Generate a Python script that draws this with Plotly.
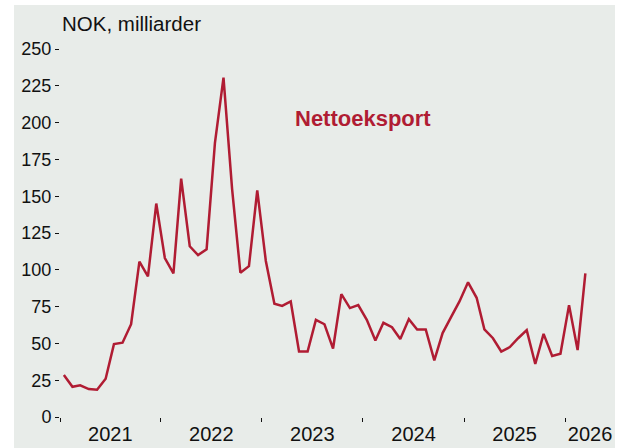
import plotly.graph_objects as go
import pandas as pd

# Monthly net exports, NOK billions, Jan 2021 - Mar 2026
start_month = "2021-01-01"
values = [28.5, 20.5, 21.5, 19, 18.5, 26, 49.5, 50.5, 63, 105.5, 95.5, 145,
          108, 97.5, 162, 116, 110, 114, 186, 230.5, 155, 98, 102.5, 154,
          106, 77, 75.5, 78.5, 44.5, 44.5, 66, 63, 46.5, 83.5, 74, 76,
          66, 52, 64, 61, 53, 66.5, 59.5, 59.5, 38.5, 57, 68, 78.5,
          91.5, 81, 59.5, 53.5, 44.5, 47.5, 53.5, 59, 36, 56.5, 41.5, 43,
          76, 45.5, 97.5]
dates = pd.date_range(start_month, periods=len(values), freq="MS") + pd.Timedelta(days=14)

year_labels = ["2021", "2022", "2023", "2024", "2025", "2026"]
year_label_pos = ["2021-07-02", "2022-07-02", "2023-07-02", "2024-07-02", "2025-07-02", "2026-04-01"]
year_bounds = ["2021-01-01", "2022-01-01", "2023-01-01", "2024-01-01", "2025-01-01", "2026-01-01"]
y_ticks = [0, 25, 50, 75, 100, 125, 150, 175, 200, 225, 250]

RED = "#B01C33"
BG = "#E8ECE9"
FONT = "Liberation Sans, Arial, sans-serif"

fig = go.Figure()
fig.add_trace(go.Scatter(x=dates, y=values, mode="lines",
                         line=dict(color=RED, width=2.5), hoverinfo="skip"))

W, H = 623, 448
ml, mr, mt, mb = 60, 18, 49, 31
pw = W - ml - mr
ph = H - mt - mb

def px_x(p):
    return (p - ml) / pw

def px_y(p):
    return (H - mb - p) / ph

fig.add_shape(type="rect", xref="paper", yref="paper",
              x0=px_x(14), x1=px_x(615), y0=px_y(448), y1=px_y(5),
              fillcolor=BG, line=dict(width=0), layer="below")

fig.add_annotation(text="NOK, milliarder", xref="paper", yref="paper",
                   x=px_x(60), y=px_y(23), xanchor="left", yanchor="middle",
                   showarrow=False, font=dict(family=FONT, size=20.5, color="#111"))
fig.add_annotation(text="<b>Nettoeksport</b>", xref="x", yref="y",
                   x="2024-01-01", y=203, xanchor="center", yanchor="middle",
                   showarrow=False, font=dict(family=FONT, size=22, color=RED))

fig.update_layout(
    width=W, height=H,
    margin=dict(l=ml, r=mr, t=mt, b=mb),
    paper_bgcolor="white", plot_bgcolor="rgba(0,0,0,0)",
    showlegend=False,
    font=dict(family=FONT, size=18, color="#111"),
    xaxis=dict(type="date", range=["2021-01-01", "2026-05-25"], automargin=False,
               tickmode="array", tickvals=year_label_pos, ticktext=year_labels,
               ticks="", showgrid=False, zeroline=False, showline=False,
               tickfont=dict(size=20), ticklabelstandoff=3,
               minor=dict(tickmode="array", tickvals=year_bounds, ticks="outside",
                          ticklen=4, tickwidth=1, tickcolor="#111", showgrid=False)),
    yaxis=dict(range=[0, 250], tickmode="array", tickvals=y_ticks, automargin=False,
               ticks="outside", ticklen=4, tickwidth=1, tickcolor="#111",
               showgrid=False, zeroline=False, showline=False,
               tickfont=dict(size=18)),
)

fig.write_html("out.html", config={"displayModeBar": False},
               post_script="document.body.style.margin='0';")
